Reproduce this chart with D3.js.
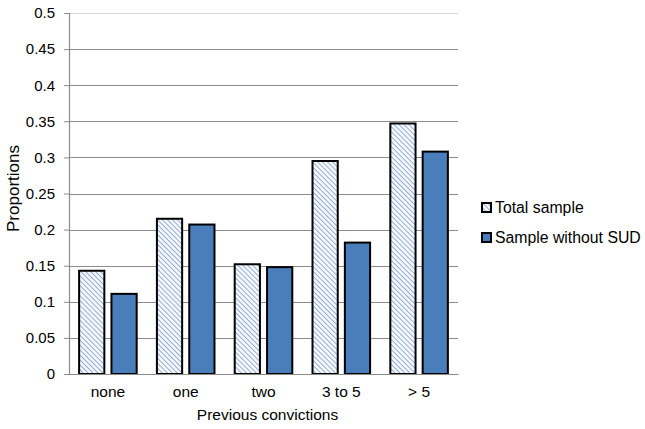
<!DOCTYPE html>
<html>
<head>
<meta charset="utf-8">
<script src="https://cdn.jsdelivr.net/npm/d3@7"></script>
<style>
  body { margin: 0; background: #fff; }
  text { font-family: "Liberation Sans", Arial, sans-serif; fill: #000; }
</style>
</head>
<body>
<div id="chart"></div>
<script>
// data
const categories = ["none", "one", "two", "3 to 5", "> 5"];
const totalSample = [0.143, 0.215, 0.152, 0.295, 0.347];
const withoutSUD = [0.111, 0.207, 0.148, 0.182, 0.308];
const seriesNames = ["Total sample", "Sample without SUD"];
const yTicks = [0, 0.05, 0.1, 0.15, 0.2, 0.25, 0.3, 0.35, 0.4, 0.45, 0.5];

const W = 645, H = 429;
const margin = {top: 13, right: 187, bottom: 55, left: 69},
    width = W - margin.left - margin.right,
    height = H - margin.top - margin.bottom;

const svg = d3.select("#chart").append("svg")
    .attr("width", W).attr("height", H);

// hatch pattern for the total sample bars (lines run top-left to bottom-right)
const defs = svg.append("defs");
const pat = defs.append("pattern")
    .attr("id", "hatch")
    .attr("patternUnits", "userSpaceOnUse")
    .attr("width", 3.5).attr("height", 3.5)
    .attr("patternTransform", "rotate(-45)");
pat.append("rect").attr("width", 3.5).attr("height", 3.5).attr("fill", "#f4f7fb");
pat.append("line")
    .attr("x1", 0).attr("y1", 0).attr("x2", 0).attr("y2", 3.5)
    .attr("stroke", "#5b84c0").attr("stroke-width", 1.2);

const g = svg.append("g").attr("transform", `translate(${margin.left},${margin.top})`);

const x = d3.scaleBand().domain(categories).range([0, width]).paddingInner(0.26).paddingOuter(0.13);
const xs = d3.scaleBand().domain(seriesNames).range([0, x.bandwidth()]).paddingInner(0.22);
const y = d3.scaleLinear().domain([0, 0.5]).range([height, 0]);

// gridlines
g.append("g").selectAll("line")
  .data(yTicks.filter(d => d > 0))
  .join("line")
    .attr("x1", 0).attr("x2", width)
    .attr("y1", d => Math.round(y(d)) + 0.5).attr("y2", d => Math.round(y(d)) + 0.5)
    .attr("stroke", d => d === 0.5 ? "#d9d9d9" : "#8c8c8c")
    .attr("stroke-width", 1.2);

// y axis
const yAxis = g.append("g")
    .call(d3.axisLeft(y).tickValues(yTicks).tickSize(5).tickPadding(9).tickFormat(d => String(d)));
yAxis.select(".domain").attr("stroke", "#8c8c8c").attr("stroke-width", 1.2);
yAxis.selectAll(".tick line").attr("stroke", "#8c8c8c");
yAxis.selectAll("text").style("font-size", "15px").attr("fill", "#222");

// bars
const series = [
  {name: seriesNames[0], values: totalSample, fill: "url(#hatch)"},
  {name: seriesNames[1], values: withoutSUD, fill: "#4a7ebb"}
];
series.forEach(s => {
  g.append("g").selectAll("rect")
    .data(categories.map((c, i) => ({c: c, v: s.values[i]})))
    .join("rect")
      .attr("x", d => x(d.c) + xs(s.name))
      .attr("y", d => y(d.v))
      .attr("width", xs.bandwidth())
      .attr("height", d => height - y(d.v))
      .attr("fill", s.fill)
      .attr("stroke", "#000")
      .attr("stroke-width", 2);
});

// x axis
const xAxis = g.append("g")
    .attr("transform", `translate(0,${height})`)
    .call(d3.axisBottom(x).tickSize(0).tickPadding(12));
xAxis.select(".domain").attr("stroke", "#8c8c8c").attr("stroke-width", 1.2);
xAxis.selectAll("text").style("font-size", "15.5px");

// axis titles
svg.append("text")
    .attr("x", margin.left + width / 2 + 4).attr("y", 420)
    .attr("text-anchor", "middle").style("font-size", "15.5px")
    .text("Previous convictions");
svg.append("text")
    .attr("transform", `translate(19,${margin.top + height / 2 - 5}) rotate(-90)`)
    .attr("text-anchor", "middle").style("font-size", "17px")
    .text("Proportions");

// legend
const legend = svg.append("g").attr("transform", "translate(481,202)");
series.forEach((s, i) => {
  const row = legend.append("g").attr("transform", `translate(0,${i * 30})`);
  row.append("rect").attr("x", 1).attr("y", 1).attr("width", 9).attr("height", 9)
    .attr("fill", s.fill).attr("stroke", "#000").attr("stroke-width", 2);
  row.append("text").attr("x", 14).attr("y", 11).style("font-size", "15.8px").text(s.name);
});
</script>
</body>
</html>
